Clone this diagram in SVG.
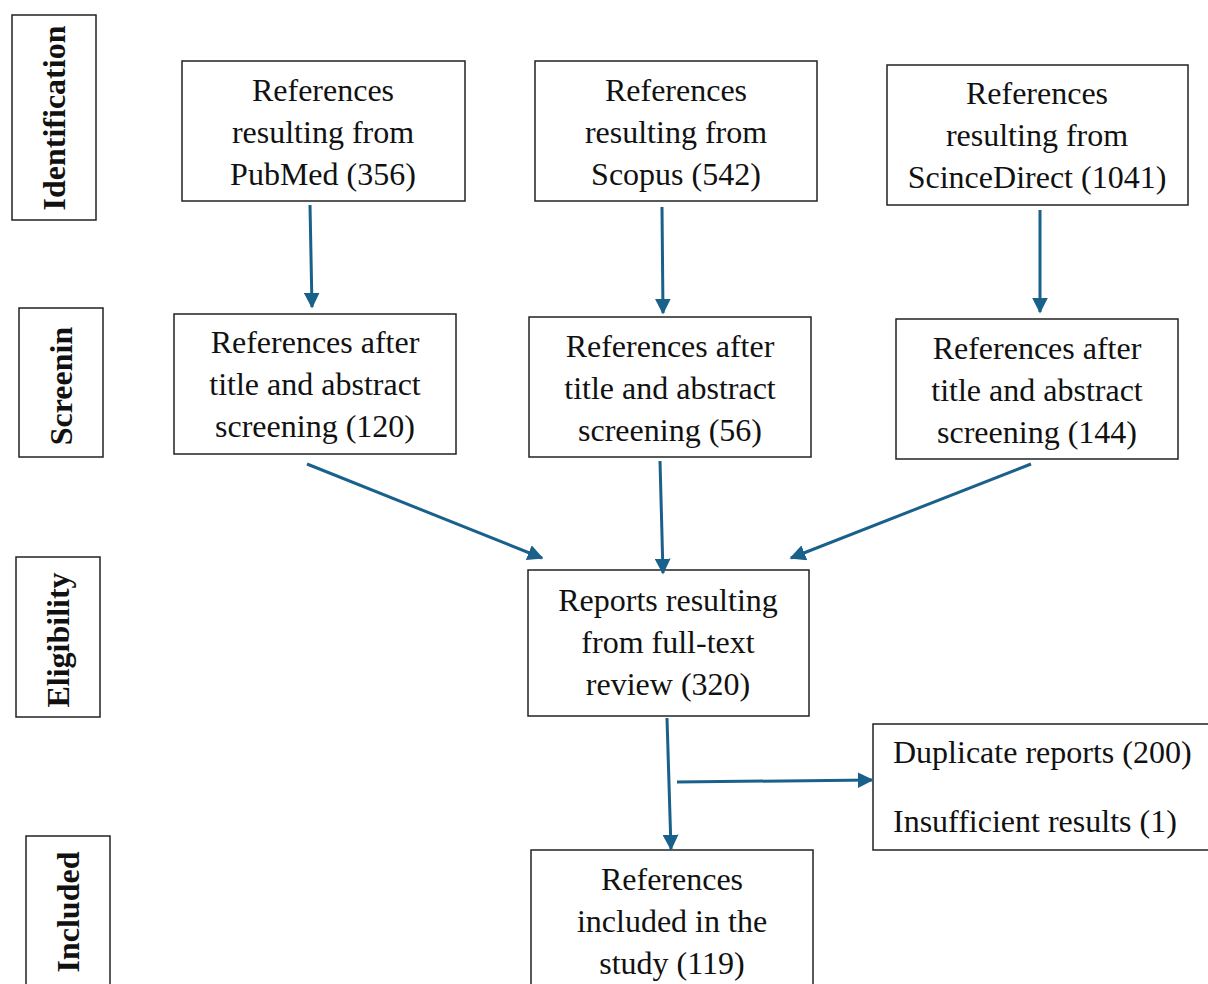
<svg xmlns="http://www.w3.org/2000/svg" width="1208" height="984" viewBox="0 0 1208 984">
<defs>
<style>
.box{fill:#fff;stroke:#222;stroke-width:1.5}
.t{font-family:"Liberation Serif","Times New Roman",serif;font-size:32px;fill:#111;text-anchor:middle}
.tl{font-family:"Liberation Serif","Times New Roman",serif;font-size:32px;fill:#111}
.side{font-family:"Liberation Serif","Times New Roman",serif;font-size:32px;font-weight:bold;fill:#111;text-anchor:middle;dominant-baseline:central}
.c{stroke:#19618a;stroke-width:3;fill:none;marker-end:url(#ah)}
</style>
<marker id="ah" viewBox="0 0 10 10" refX="9" refY="5" markerWidth="5.3" markerHeight="5.3" markerUnits="strokeWidth" orient="auto">
<path d="M0,0 L10,5 L0,10 z" fill="#19618a"/>
</marker>
</defs>
<rect width="1208" height="984" fill="#fff"/>

<g id="stage-identification"><rect class="box" x="12" y="15" width="84" height="205"/><text class="side" transform="translate(54,118) rotate(-90)">Identification</text></g>
<g id="stage-screening"><rect class="box" x="19" y="308" width="84" height="149"/><text class="side" transform="translate(61,386) rotate(-90)">Screenin</text></g>
<g id="stage-eligibility"><rect class="box" x="16" y="557" width="84" height="160"/><text class="side" transform="translate(58,640) rotate(-90)">Eligibility</text></g>
<g id="stage-included"><rect class="box" x="26" y="836" width="84" height="152"/><text class="side" transform="translate(68,912) rotate(-90)">Included</text></g>

<g id="pubmed"><rect class="box" x="182" y="61" width="283" height="140"/><text class="t" x="323" y="101">References</text><text class="t" x="323" y="143">resulting from</text><text class="t" x="323" y="185">PubMed (356)</text></g>
<g id="scopus"><rect class="box" x="535" y="61" width="282" height="140"/><text class="t" x="676" y="101">References</text><text class="t" x="676" y="143">resulting from</text><text class="t" x="676" y="185">Scopus (542)</text></g>
<g id="sciencedirect"><rect class="box" x="887" y="65" width="301" height="140"/><text class="t" x="1037" y="104">References</text><text class="t" x="1037" y="146">resulting from</text><text class="t" x="1037" y="188">ScinceDirect (1041)</text></g>

<g id="screen-pubmed"><rect class="box" x="174" y="314" width="282" height="140"/><text class="t" x="315" y="353">References after</text><text class="t" x="315" y="395">title and abstract</text><text class="t" x="315" y="437">screening (120)</text></g>
<g id="screen-scopus"><rect class="box" x="529" y="317" width="282" height="140"/><text class="t" x="670" y="357">References after</text><text class="t" x="670" y="399">title and abstract</text><text class="t" x="670" y="441">screening (56)</text></g>
<g id="screen-sciencedirect"><rect class="box" x="896" y="319" width="282" height="140"/><text class="t" x="1037" y="359">References after</text><text class="t" x="1037" y="401">title and abstract</text><text class="t" x="1037" y="443">screening (144)</text></g>

<g id="fulltext"><rect class="box" x="528" y="570" width="281" height="146"/><text class="t" x="668" y="611">Reports resulting</text><text class="t" x="668" y="653">from full-text</text><text class="t" x="668" y="695">review (320)</text></g>
<g id="excluded"><rect class="box" x="873" y="724" width="340" height="126"/><text class="tl" x="893" y="763">Duplicate reports (200)</text><text class="tl" x="893" y="832">Insufficient results (1)</text></g>
<g id="included"><rect class="box" x="531" y="850" width="282" height="140"/><text class="t" x="672" y="890">References</text><text class="t" x="672" y="932">included in the</text><text class="t" x="672" y="974">study (119)</text></g>

<g id="connectors">
<path class="c" d="M310,205 L312,307"/>
<path class="c" d="M662,207 L663,313"/>
<path class="c" d="M1040,210 L1040,312"/>
<path class="c" d="M307,464 L542,558"/>
<path class="c" d="M660,461 L663,573"/>
<path class="c" d="M1031,464 L791,558"/>
<path class="c" d="M667,718 L671,849"/>
<path class="c" d="M677,782 L872,780"/>
</g>
</svg>
